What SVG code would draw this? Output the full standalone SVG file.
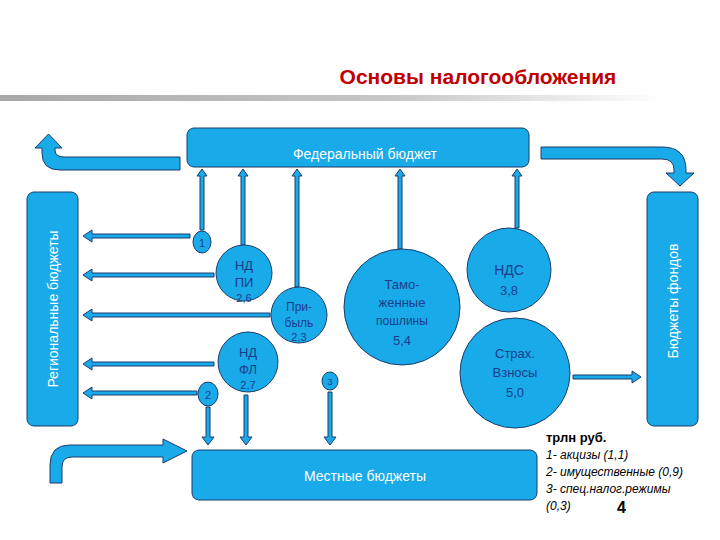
<svg xmlns="http://www.w3.org/2000/svg" width="720" height="540" viewBox="0 0 720 540">
<defs>
<linearGradient id="g" x1="0" x2="1"><stop offset="0" stop-color="#a8a8a8"/><stop offset="0.6" stop-color="#c8c8c8"/><stop offset="1" stop-color="#ffffff"/></linearGradient>
<style>
.b{fill:#19aaea;stroke:#1b3d6b;stroke-width:1}
.t{font-family:"Liberation Sans",Arial,sans-serif;fill:#1b3d8b;text-anchor:middle}
.w{font-family:"Liberation Sans",Arial,sans-serif;fill:#fff;text-anchor:middle;font-size:14px}
.a{fill:#19aaea;stroke:#1b3d6b;stroke-width:1}
.l{font-family:"Liberation Sans",Arial,sans-serif;font-size:12px;font-style:italic;fill:#000}
</style>
</defs>
<rect width="720" height="540" fill="#fff"/>
<text x="478" y="84" font-family="Liberation Sans,Arial,sans-serif" font-size="21" font-weight="bold" fill="#c00000" text-anchor="middle">Основы налогообложения</text>
<rect x="0" y="95" width="665" height="6" fill="url(#g)"/>
<g id="connectors">
<path class="a" d="M200,230 V176 H197 L202,169 L207,176 H204 V230 Z"/>
<path class="a" d="M241,245 V176 H238 L243,169 L248,176 H245 V245 Z"/>
<path class="a" d="M295,287 V176 H292 L297,169 L302,176 H299 V287 Z"/>
<path class="a" d="M398,249 V176 H395 L400,169 L405,176 H402 V249 Z"/>
<path class="a" d="M515,228 V176 H512 L517,169 L522,176 H519 V228 Z"/>
<path class="a" d="M190,234 H92 V230 L83,236 L92,242 V238 H190 Z"/>
<path class="a" d="M214,273 H92 V269 L83,275 L92,281 V277 H214 Z"/>
<path class="a" d="M270,313 H92 V309 L83,315 L92,321 V317 H270 Z"/>
<path class="a" d="M214,362 H92 V358 L83,364 L92,370 V366 H214 Z"/>
<path class="a" d="M197,391 H92 V387 L83,393 L92,399 V395 H197 Z"/>
<path class="a" d="M206,407 V437 H202 L208,445 L214,437 H210 V407 Z"/>
<path class="a" d="M244,395 V437 H240 L246,445 L252,437 H248 V395 Z"/>
<path class="a" d="M328,392 V437 H324 L330,445 L336,437 H332 V392 Z"/>
<path class="a" d="M573,375 H632 V371 L641,377 L632,383 V379 H573 Z"/>
<path class="a" d="M180,157 H64 Q55,157 55,150 V148 H62 L48.5,134 L35,148 H42 V153 Q42,170 60,170 H180 Z"/>
<path class="a" d="M541,147 H662 Q686,147 686,170 V173 H694 L680,186 L666,173 H674 V170 Q674,159 662,159 H541 Z"/>
<path class="a" d="M50,483 V465 Q50,445 70,445 H163 V439 L187,451 L163,463 V457 H72 Q62,457 62,467 V483 Z"/>
</g>
<g id="federal"><rect class="b" x="187" y="128" width="342" height="39" rx="7"/><text class="w" x="365" y="159">Федеральный бюджет</text></g>
<g id="regional"><rect class="b" x="27" y="192" width="51" height="234" rx="7"/><text class="w" transform="translate(58,309) rotate(-90)">Региональные бюджеты</text></g>
<g id="funds"><rect class="b" x="647" y="192" width="51" height="234" rx="7"/><text class="w" transform="translate(678,301) rotate(-90)">Бюджеты фондов</text></g>
<g id="local"><rect class="b" x="192" y="450" width="345" height="50" rx="7"/><text class="w" x="365" y="481">Местные бюджеты</text></g>
<g id="c1"><ellipse class="b" cx="202" cy="242" rx="9" ry="11"/><text class="t" x="202" y="247" font-size="11">1</text></g>
<g id="ndpi"><circle class="b" cx="244" cy="273" r="28"/><text class="t" x="244" y="270" font-size="13">НД</text><text class="t" x="244" y="287" font-size="13">ПИ</text><text class="t" x="244" y="302" font-size="11">2,6</text></g>
<g id="prib"><circle class="b" cx="299" cy="315" r="28"/><text class="t" x="299" y="311" font-size="12">При-</text><text class="t" x="299" y="327" font-size="12">быль</text><text class="t" x="299" y="341" font-size="11">2,3</text></g>
<g id="ndfl"><circle class="b" cx="248" cy="362" r="30"/><text class="t" x="248" y="357" font-size="13">НД</text><text class="t" x="248" y="374" font-size="13">ФЛ</text><text class="t" x="248" y="389" font-size="11">2,7</text></g>
<g id="c2"><ellipse class="b" cx="208" cy="394" rx="10" ry="12"/><text class="t" x="208" y="399" font-size="11">2</text></g>
<g id="c3"><ellipse class="b" cx="330" cy="381" rx="8" ry="9"/><text class="t" x="330" y="385" font-size="9">3</text></g>
<g id="tam"><circle class="b" cx="402" cy="307" r="58"/><text class="t" x="402" y="289" font-size="13">Тамо-</text><text class="t" x="402" y="307" font-size="13">женные</text><text class="t" x="402" y="325" font-size="12">пошлины</text><text class="t" x="402" y="345" font-size="13">5,4</text></g>
<g id="nds"><circle class="b" cx="509" cy="270" r="42"/><text class="t" x="509" y="275" font-size="14">НДС</text><text class="t" x="509" y="295" font-size="13">3,8</text></g>
<g id="strah"><circle class="b" cx="515" cy="373" r="55"/><text class="t" x="515" y="358" font-size="13">Страх.</text><text class="t" x="515" y="377" font-size="13">Взносы</text><text class="t" x="515" y="397" font-size="13">5,0</text></g>
<g id="legend">
<text x="546" y="442" font-family="Liberation Sans,Arial,sans-serif" font-size="13" font-weight="bold">трлн руб.</text>
<text class="l" x="546" y="459">1- акцизы (1,1)</text>
<text class="l" x="546" y="476">2- имущественные (0,9)</text>
<text class="l" x="546" y="493">3- спец.налог.режимы</text>
<text class="l" x="546" y="510">(0,3)</text>
<text x="617" y="513" font-family="Liberation Sans,Arial,sans-serif" font-size="16" font-weight="bold">4</text>
</g>
</svg>
